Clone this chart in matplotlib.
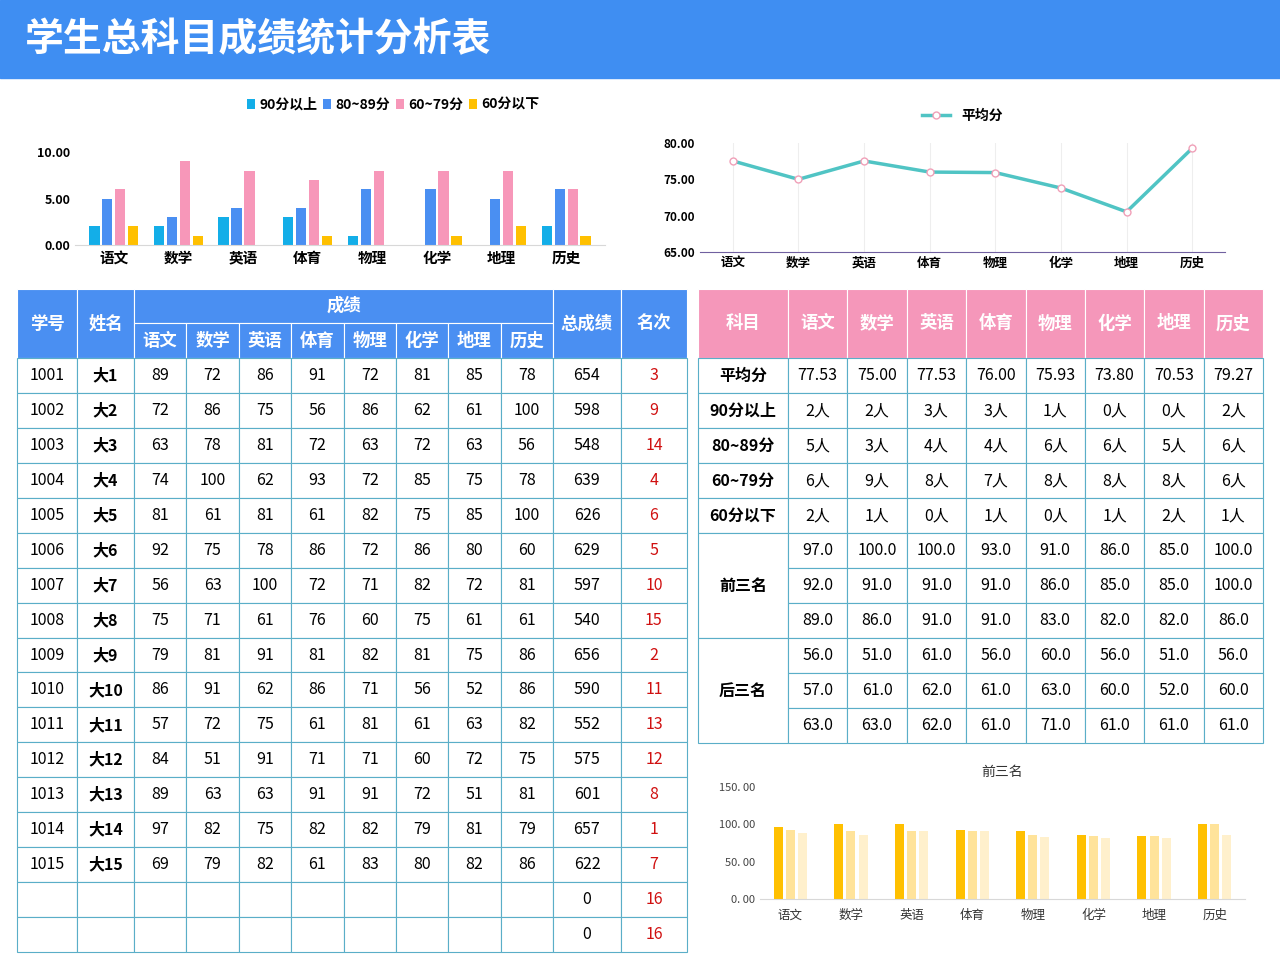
import numpy as np
import matplotlib.pyplot as plt
from matplotlib.patches import Rectangle

plt.rcParams["font.family"] = ["Noto Sans CJK SC", "DejaVu Sans"]

subjects = ["语文", "数学", "英语", "体育", "物理", "化学", "地理", "历史"]
ids = [str(1001 + i) for i in range(15)]
names = ["大%d" % (i + 1) for i in range(15)]
scores = [
    [89, 72, 86, 91, 72, 81, 85, 78],
    [72, 86, 75, 56, 86, 62, 61, 100],
    [63, 78, 81, 72, 63, 72, 63, 56],
    [74, 100, 62, 93, 72, 85, 75, 78],
    [81, 61, 81, 61, 82, 75, 85, 100],
    [92, 75, 78, 86, 72, 86, 80, 60],
    [56, 63, 100, 72, 71, 82, 72, 81],
    [75, 71, 61, 76, 60, 75, 61, 61],
    [79, 81, 91, 81, 82, 81, 75, 86],
    [86, 91, 62, 86, 71, 56, 52, 86],
    [57, 72, 75, 61, 81, 61, 63, 82],
    [84, 51, 91, 71, 71, 60, 72, 75],
    [89, 63, 63, 91, 91, 72, 51, 81],
    [97, 82, 75, 82, 82, 79, 81, 79],
    [69, 79, 82, 61, 83, 80, 82, 86],
]
totals = [654, 598, 548, 639, 626, 629, 597, 540, 656, 590, 552, 575, 601, 657, 622]
ranks = [3, 9, 14, 4, 6, 5, 10, 15, 2, 11, 13, 12, 8, 1, 7]
avg = [77.53, 75.00, 77.53, 76.00, 75.93, 73.80, 70.53, 79.27]
cnt90 = [2, 2, 3, 3, 1, 0, 0, 2]
cnt80 = [5, 3, 4, 4, 6, 6, 5, 6]
cnt60 = [6, 9, 8, 7, 8, 8, 8, 6]
cnt_lt60 = [2, 1, 0, 1, 0, 1, 2, 1]
top3 = [
    [97, 100, 100, 93, 91, 86, 85, 100],
    [92, 91, 91, 91, 86, 85, 85, 100],
    [89, 86, 91, 91, 83, 82, 82, 86],
]
bottom3 = [
    [56, 51, 61, 56, 60, 56, 51, 56],
    [57, 61, 62, 61, 63, 60, 52, 60],
    [63, 63, 62, 61, 71, 61, 61, 61],
]

W, H = 1280, 959
fig = plt.figure(figsize=(W / 100, H / 100), dpi=100)
bg = fig.add_axes([0, 0, 1, 1])
bg.set_xlim(0, W)
bg.set_ylim(H, 0)
bg.axis("off")

BLUE = "#4a8ff2"
PINK = "#f597ba"
GRID = "#5aaec8"

bg.add_patch(Rectangle((0, 0), W, 78, color="#3f8ef2"))
bg.text(25, 40, "学生总科目成绩统计分析表", color="white", fontsize=28,
        fontweight="bold", va="center")


def cell(x0, y0, x1, y1, txt="", fc="white", color="black", size=11.5, bold=False):
    bg.add_patch(Rectangle((x0, y0), x1 - x0, y1 - y0, fc=fc, ec=GRID if fc == "white" else "white", lw=0.8))
    if txt != "":
        bg.text((x0 + x1) / 2, (y0 + y1) / 2, txt, ha="center", va="center",
                color=color, fontsize=size, fontweight="bold" if bold else "medium")


# left table
lx = [17, 77, 134] + [134 + (553 - 134) * (i + 1) / 8 for i in range(8)] + [621, 687]
cell(lx[0], 289, lx[1], 358, "学号", BLUE, "white", 12.5, True)
cell(lx[1], 289, lx[2], 358, "姓名", BLUE, "white", 12.5, True)
cell(lx[2], 289, lx[10], 323, "成绩", BLUE, "white", 12.5, True)
for i, s in enumerate(subjects):
    cell(lx[2 + i], 323, lx[3 + i], 358, s, BLUE, "white", 12.5, True)
cell(lx[10], 289, lx[11], 358, "总成绩", BLUE, "white", 12.5, True)
cell(lx[11], 289, lx[12], 358, "名次", BLUE, "white", 12.5, True)
rh = (952 - 358) / 17
for r in range(17):
    y0, y1 = 358 + r * rh, 358 + (r + 1) * rh
    if r < 15:
        row = [ids[r], names[r]] + [str(v) for v in scores[r]] + [str(totals[r])]
        rk = str(ranks[r])
    else:
        row = [""] * 10 + ["0"]
        rk = "16"
    for c, t in enumerate(row):
        cell(lx[c], y0, lx[c + 1], y1, t, bold=(c == 1))
    cell(lx[11], y0, lx[12], y1, rk, color="#d01010")

# right table
rx = [698, 788] + [788 + (1263 - 788) * (i + 1) / 8 for i in range(8)]
cell(rx[0], 289, rx[1], 358, "科目", PINK, "white", 12.5, True)
for i, s in enumerate(subjects):
    cell(rx[1 + i], 289, rx[2 + i], 358, s, PINK, "white", 12.5, True)
rows = [("平均分", ["%.2f" % v for v in avg]),
        ("90分以上", ["%d人" % v for v in cnt90]),
        ("80~89分", ["%d人" % v for v in cnt80]),
        ("60~79分", ["%d人" % v for v in cnt60]),
        ("60分以下", ["%d人" % v for v in cnt_lt60])]
rr = 35
for r, (lab, vals) in enumerate(rows):
    y0 = 358 + r * rr
    cell(rx[0], y0, rx[1], y0 + rr, lab, bold=True)
    for c, t in enumerate(vals):
        cell(rx[1 + c], y0, rx[2 + c], y0 + rr, t)
for g, (lab, data) in enumerate([("前三名", top3), ("后三名", bottom3)]):
    yb = 533 + g * 3 * rr
    cell(rx[0], yb, rx[1], yb + 3 * rr, lab, bold=True)
    for r in range(3):
        for c in range(8):
            cell(rx[1 + c], yb + r * rr, rx[2 + c], yb + (r + 1) * rr, "%.1f" % data[r][c])


def pax(x0, y0, x1, y1):
    return fig.add_axes([x0 / W, 1 - y1 / H, (x1 - x0) / W, (y1 - y0) / H])


def style(ax):
    for s in ["top", "right", "left"]:
        ax.spines[s].set_visible(False)
    ax.spines["bottom"].set_color("#d8d8d8")
    ax.tick_params(length=0)
    ax.set_facecolor("none")


# count bar chart
ax1 = pax(75, 152, 605, 245)
x = np.arange(8)
w = 0.16
cols = ["#13aee8", "#4a8ff2", "#f797b9", "#ffc000"]
labs = ["90分以上", "80~89分", "60~79分", "60分以下"]
for k, (d, c, l) in enumerate(zip([cnt90, cnt80, cnt60, cnt_lt60], cols, labs)):
    ax1.bar(x + (k - 1.5) * w * 1.25, d, w, color=c, label=l)
ax1.set_ylim(0, 10)
ax1.set_yticks([0, 5, 10])
ax1.set_yticklabels(["0.00", "5.00", "10.00"], fontsize=9, fontweight="bold")
ax1.set_xticks(x)
ax1.set_xticklabels(subjects, fontsize=10.5, fontweight="bold")
ax1.set_xlim(-0.6, 7.6)
style(ax1)
ax1.legend(loc="lower center", bbox_to_anchor=(0.6, 1.3), ncol=4, frameon=False,
           handlelength=0.6, handletextpad=0.3, columnspacing=0.4,
           prop={"weight": "bold", "size": 10})

# average line chart
ax2 = pax(700, 143, 1225, 252)
ax2.plot(x, avg, color="#50c4c4", lw=2.5, marker="o", ms=5, mfc="white", mec="#f0a0b8",
         label="平均分")
ax2.set_ylim(65, 80)
ax2.set_yticks([65, 70, 75, 80])
ax2.set_yticklabels(["65.00", "70.00", "75.00", "80.00"], fontsize=8.5, fontweight="bold")
ax2.set_xticks(x)
ax2.set_xticklabels(subjects, fontsize=9, fontweight="bold")
ax2.set_xlim(-0.5, 7.5)
ax2.grid(axis="x", color="#eeeeee")
style(ax2)
ax2.spines["bottom"].set_color("#7060a0")
ax2.legend(loc="lower center", bbox_to_anchor=(0.5, 1.07), frameon=False,
           prop={"weight": "bold", "size": 10}, handlelength=2)

# top3 bar chart
ax3 = pax(760, 787, 1245, 899)
ycols = ["#ffc000", "#ffe39a", "#fff0cc"]
for k in range(3):
    ax3.bar(x + (k - 1) * 0.2, top3[k], 0.15, color=ycols[k])
ax3.set_ylim(0, 150)
ax3.set_yticks([0, 50, 100, 150])
ax3.set_yticklabels(["0. 00", "50. 00", "100. 00", "150. 00"], fontsize=8, color="#444444")
ax3.set_xticks(x)
ax3.set_xticklabels(subjects, fontsize=9, color="#333333")
ax3.tick_params(axis="x", pad=7)
ax3.set_xlim(-0.5, 7.5)
style(ax3)
ax3.set_title("前三名", fontsize=10, color="#333333", pad=8)

fig.savefig("out.png", dpi=100)
